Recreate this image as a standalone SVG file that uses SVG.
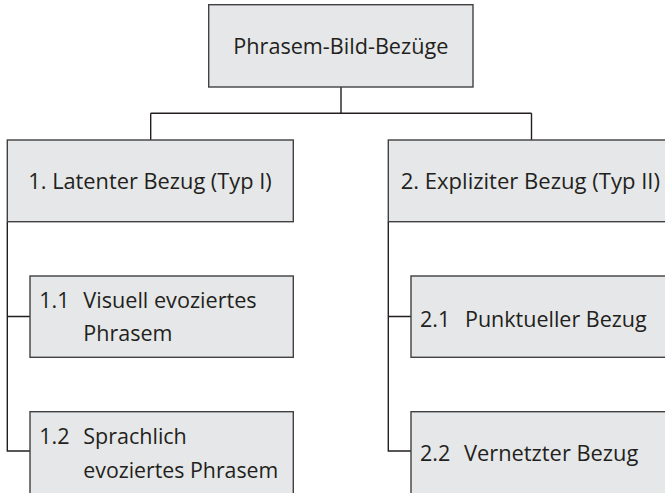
<svg xmlns="http://www.w3.org/2000/svg" width="665" height="493" viewBox="0 0 665 493">
<style>
.box{fill:#e6e7e8;stroke:#414042;stroke-width:1.4}
.t{font-family:"Open Sans","Noto Sans",sans-serif;font-size:21.5px;fill:#231f20}
.c{fill:none;stroke:#231f20;stroke-width:1.4}
</style>
<rect width="665" height="493" fill="#ffffff"/>
<g id="connectors">
<path class="c" d="M341,87 V113.3 M150.7,113.3 H531.5 M150.7,113.3 V140 M531.5,113.3 V140"/>
<path class="c" d="M7.3,221.7 V451 H30 M7.3,316.5 H30"/>
<path class="c" d="M388.3,221.7 V451 H411 M388.3,316.5 H411"/>
</g>
<g id="root">
<rect class="box" x="208.7" y="4.7" width="264.3" height="82.3"/>
<text class="t" x="233.3" y="53.8" textLength="215" lengthAdjust="spacingAndGlyphs">Phrasem-Bild-Bezüge</text>
</g>
<g id="n1">
<rect class="box" x="7.3" y="140" width="286" height="81.7"/>
<text class="t" x="28.3" y="189.2" textLength="243.4" lengthAdjust="spacingAndGlyphs">1.  Latenter Bezug (Typ I)</text>
</g>
<g id="n2">
<rect class="box" x="388.3" y="140" width="290" height="81.7"/>
<text class="t" x="400.7" y="189.2" textLength="259.3" lengthAdjust="spacingAndGlyphs">2.  Expliziter Bezug (Typ II)</text>
</g>
<g id="n11">
<rect class="box" x="30" y="276" width="263.3" height="81.3"/>
<text class="t" x="39.3" y="307.8">1.1</text>
<text class="t" x="83.3" y="307.8" textLength="173.4" lengthAdjust="spacingAndGlyphs">Visuell evoziertes</text>
<text class="t" x="83.3" y="341">Phrasem</text>
</g>
<g id="n12">
<rect class="box" x="30" y="411.7" width="263.3" height="90"/>
<text class="t" x="39.3" y="443.5">1.2</text>
<text class="t" x="83.3" y="443.5">Sprachlich</text>
<text class="t" x="83.3" y="477.7" textLength="195" lengthAdjust="spacingAndGlyphs">evoziertes Phrasem</text>
</g>
<g id="n21">
<rect class="box" x="411" y="276" width="270" height="81.3"/>
<text class="t" x="420" y="326.7">2.1</text>
<text class="t" x="465" y="326.7" textLength="181.7" lengthAdjust="spacingAndGlyphs">Punktueller Bezug</text>
</g>
<g id="n22">
<rect class="box" x="411" y="411.7" width="270" height="90"/>
<text class="t" x="420" y="461">2.2</text>
<text class="t" x="464" y="461" textLength="174.3" lengthAdjust="spacingAndGlyphs">Vernetzter Bezug</text>
</g>
</svg>
